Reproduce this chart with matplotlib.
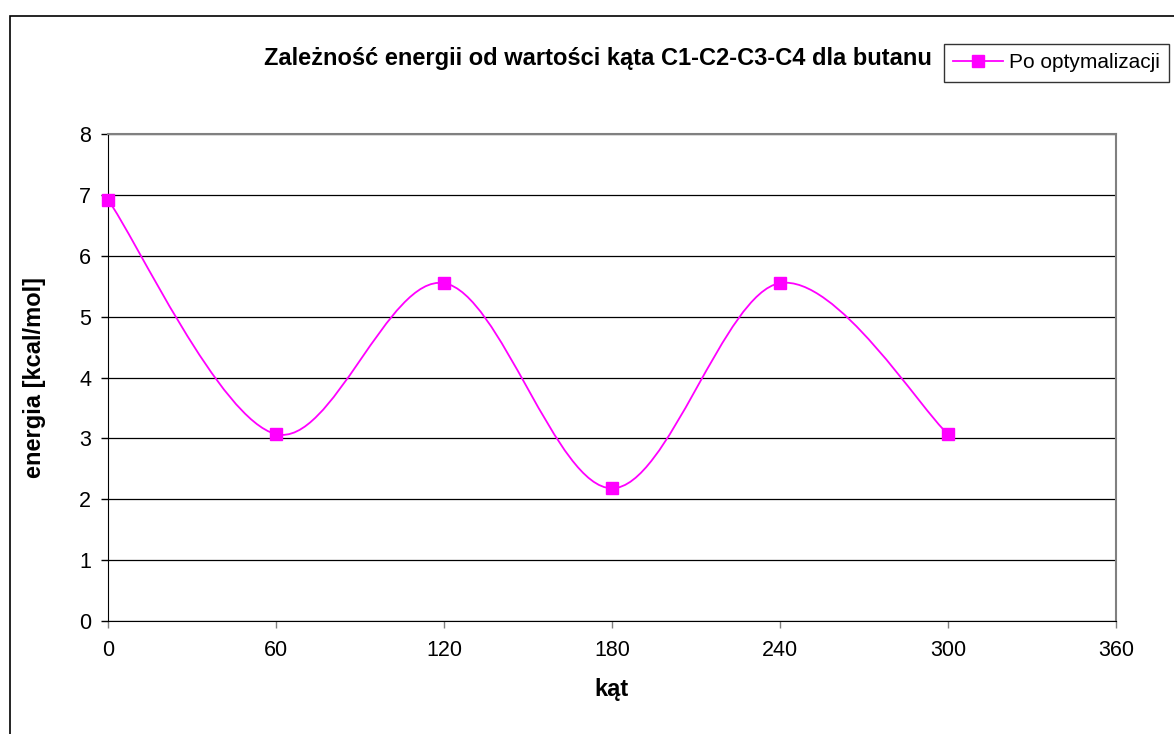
import matplotlib
matplotlib.use("Agg")
import matplotlib.pyplot as plt
from matplotlib.path import Path
from matplotlib.patches import PathPatch, Rectangle
from matplotlib.lines import Line2D

plt.rcParams['font.family'] = ['Liberation Sans', 'DejaVu Sans']

# data
angles = [0, 60, 120, 180, 240, 300]
energy = [6.92, 3.07, 5.55, 2.18, 5.55, 3.07]
xticks = [0, 60, 120, 180, 240, 300, 360]
yticks = [0, 1, 2, 3, 4, 5, 6, 7, 8]

title = "Zależność energii od wartości kąta C1-C2-C3-C4 dla butanu"
series_name = "Po optymalizacji"
col = '#ff00ff'


def smooth_path(xs, ys):
    # Excel-like smoothed line: cubic Bezier segments through the points
    n = len(xs)
    verts = [(xs[0], ys[0])]
    codes = [Path.MOVETO]
    for i in range(n - 1):
        p0 = (xs[max(i - 1, 0)], ys[max(i - 1, 0)])
        p1 = (xs[i], ys[i])
        p2 = (xs[i + 1], ys[i + 1])
        p3 = (xs[min(i + 2, n - 1)], ys[min(i + 2, n - 1)])
        c1 = (p1[0] + (p2[0] - p0[0]) / 6, p1[1] + (p2[1] - p0[1]) / 6)
        c2 = (p2[0] - (p3[0] - p1[0]) / 6, p2[1] - (p3[1] - p1[1]) / 6)
        verts += [c1, c2, p2]
        codes += [Path.CURVE4] * 3
    return Path(verts, codes)


W, H = 1174, 734
fig = plt.figure(figsize=(W / 100, H / 100), dpi=100)
fig.patches.append(Rectangle((10 / W, -0.01), 1.2, 1 - 16 / H + 0.01,
                             transform=fig.transFigure, fill=False,
                             edgecolor='black', linewidth=1.2))

ax = fig.add_axes([108 / W, 1 - 621 / H, (1116 - 108) / W, (621 - 134) / H])
ax.set_xlim(0, 360)
ax.set_ylim(0, 8)
ax.set_xticks(xticks)
ax.set_yticks(yticks)
ax.tick_params(labelsize=15.5, length=5, width=1, pad=7)
ax.tick_params(axis='x', color='#808080', pad=9)
ax.grid(axis='y', color='black', linewidth=0.9)
ax.set_axisbelow(True)
for s in ['left', 'bottom']:
    ax.spines[s].set_color('black')
for s in ['top', 'right']:
    ax.spines[s].set_color('#808080')
    ax.spines[s].set_linewidth(1.5)

ax.add_patch(PathPatch(smooth_path(angles, energy), fill=False,
                       edgecolor=col, linewidth=1.3, zorder=3))
ax.plot(angles, energy, linestyle='none', marker='s', markersize=8,
        color=col, clip_on=False, zorder=4)

ax.set_xlabel("kąt", fontsize=17, fontweight='bold', labelpad=12)
ax.set_ylabel("energia [kcal/mol]", fontsize=17, fontweight='bold', labelpad=24)

fig.text(598 / W, 1 - 58 / H, title, fontsize=17, fontweight='bold',
         ha='center', va='center')

handle = Line2D([], [], color=col, marker='s', markersize=8, linewidth=1.3)
leg = fig.legend([handle], [series_name], loc='upper left',
                 bbox_to_anchor=(944 / W, 1 - 44 / H), fontsize=15,
                 frameon=True, fancybox=False, edgecolor='black',
                 borderpad=0.45, handlelength=2.4, handletextpad=0.25,
                 borderaxespad=0)
leg.get_frame().set_linewidth(1)

fig.savefig("out.png", dpi=100)
